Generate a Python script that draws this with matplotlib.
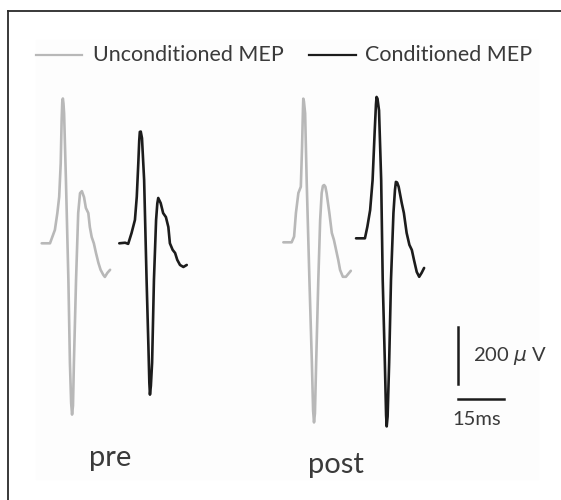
import matplotlib
matplotlib.use("Agg")
import matplotlib.pyplot as plt
from matplotlib.lines import Line2D
from matplotlib.patches import Rectangle

plt.rcParams['font.family'] = ['Lato', 'DejaVu Sans']

# MEP traces, time in ms from trace onset, amplitude in uV from baseline
pre_uncond_t = [0, 2.7, 4.3, 5.1, 5.7, 6.2, 6.5, 6.7, 6.9, 7.1, 7.3, 7.9, 8.7, 9.2, 9.6, 9.9, 10.2, 10.5, 11.2, 11.9,
                12.5, 13.1, 13.8, 14.4, 15.2, 15.7, 16.3, 17.0, 17.7, 18.5, 19.2, 20.1, 20.6, 21.4, 22.3]
pre_uncond_v = [0, 0, 47, 106, 163, 281, 432, 495, 508, 490, 456, 222, -128, -419, -560, -601, -570, -419, -128, 106,
                176, 183, 162, 124, 106, 57, 22, 0, -34, -69, -93, -111, -118, -104, -93]

pre_cond_t = [0, 1.9, 2.9, 4.0, 5.1, 5.7, 6.2, 6.5, 6.7, 7.0, 7.4, 8.1, 8.9, 9.5, 9.8, 10.0, 10.3, 10.7, 11.3, 12.0,
              12.4, 12.7, 13.5, 14.3, 15.2, 16.0, 16.5, 17.4, 18.2, 18.9, 19.8, 20.9, 22.0]
pre_cond_v = [0, 2, -2, 36, 82, 163, 281, 360, 391, 392, 369, 222, -128, -363, -490, -531, -500, -419, -128, 82,
              140, 159, 141, 106, 92, 57, 0, -23, -34, -58, -76, -83, -76]

post_uncond_t = [0, 2.7, 3.5, 4.1, 4.9, 5.7, 6.1, 6.4, 6.5, 6.7, 7.1, 7.6, 8.5, 9.3, 9.7, 10.0, 10.3, 10.7, 11.4, 12.0,
                 12.5, 12.9, 13.3, 13.7, 14.1, 15.0, 15.8, 16.5, 17.2, 17.9, 18.5, 19.4, 20.4, 22.0]
post_uncond_v = [0, 0, 20, 103, 173, 195, 335, 470, 504, 495, 453, 218, -132, -422, -590, -632, -600, -422, -132, 78,
                 173, 198, 201, 195, 173, 103, 33, 8, -27, -62, -97, -121, -121, -100]

post_cond_t = [0, 2.9, 3.7, 4.6, 5.4, 6.1, 6.5, 6.7, 7.0, 7.5, 8.2, 8.7, 9.4, 9.8, 10.0, 10.3, 10.8, 11.4, 12.2, 12.7,
               13.0, 13.4, 13.9, 14.9, 15.6, 16.5, 17.4, 18.2, 18.9, 19.8, 20.6, 21.4, 22.2]
post_cond_v = [0, 0, 41, 99, 204, 379, 470, 496, 490, 449, 204, -146, -436, -620, -660, -625, -436, -146, 89, 170,
               198, 196, 181, 124, 89, 19, -23, -41, -76, -118, -135, -121, -104]

labels = ["Unconditioned MEP", "Conditioned MEP"]
conditions = ["pre", "post"]
scale_ms = 15
scale_uv = 200

gray = "#b8b8b8"
black = "#1c1c1c"
txt = "#3a3a3a"

fig = plt.figure(figsize=(5.61, 5.0), dpi=100)
ax = fig.add_axes([0, 0, 1, 1])
ax.set_xlim(-13.6, 169.34)
ax.set_ylim(-900.7, 853.7)
ax.axis('off')

# faint panel background + frame
ax.add_patch(Rectangle((36 / 561, 1 - 479 / 500), 502 / 561, 439 / 500,
                       transform=fig.transFigure, color="#fdfdfd", zorder=0))
fig.lines.append(Line2D([8 / 561, 1], [1 - 11 / 500, 1 - 11 / 500], transform=fig.transFigure,
                        color="#2a2a2a", lw=1.3))
fig.lines.append(Line2D([8 / 561, 8 / 561], [1 - 11 / 500, 0], transform=fig.transFigure,
                        color="#2a2a2a", lw=1.3))

traces = [
    (pre_uncond_t, pre_uncond_v, 0, 0, gray),
    (pre_cond_t, pre_cond_v, 25.3, 0, black),
    (post_uncond_t, post_uncond_v, 78.8, 3.5, gray),
    (post_cond_t, post_cond_v, 102.5, 17.5, black),
]
for t, v, x0, y0, c in traces:
    ax.plot([x0 + a for a in t], [y0 + b for b in v], color=c, lw=1.9,
            solid_joinstyle='round', solid_capstyle='round')

# scale bars
sx, sy = 135.75, -493.7
ax.plot([sx, sx], [sy, sy + scale_uv], color=black, lw=1.8)
ax.plot([sx, sx + scale_ms], [-546.3, -546.3], color=black, lw=1.8)
ax.text(sx + 4.8, sy + scale_uv / 2, "200 $\\mu$ V", fontsize=14.5, color=txt, va='center', ha='left')
ax.text(sx + 6, -637, "%dms" % scale_ms, fontsize=14.5, color=txt, va='baseline', ha='center')

ax.text(22.3, -781, conditions[0], fontsize=21, color=txt, ha='center', va='baseline')
ax.text(96.0, -806, conditions[1], fontsize=21, color=txt, ha='center', va='baseline')

# legend drawn by hand
ly = 1 - 55 / 500
fig.lines.append(Line2D([36 / 561, 82 / 561], [ly, ly], transform=fig.transFigure, color=gray, lw=1.6))
fig.text(93 / 561, ly, labels[0], fontsize=15.5, color=txt, va='center', ha='left')
fig.lines.append(Line2D([309 / 561, 356 / 561], [ly, ly], transform=fig.transFigure, color=black, lw=1.6))
fig.text(365 / 561, ly, labels[1], fontsize=15.5, color=txt, va='center', ha='left')

fig.savefig("out.png", dpi=100)
